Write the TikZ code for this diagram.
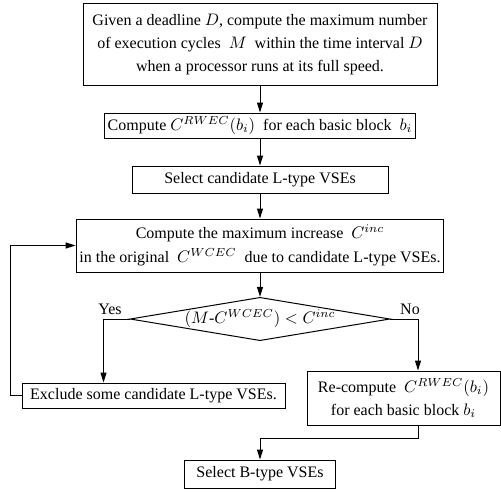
\documentclass[tikz,border=0pt]{standalone}
\usepackage{amsmath}
\usepackage{fontspec}
\setmainfont{Liberation Serif}
\usetikzlibrary{shapes.geometric, arrows.meta, calc}

\tikzset{
    stepbox/.style={draw, line width=0.6pt, align=center, inner sep=2pt,
        font=\fontsize{9.6}{14}\selectfont},
    flow/.style={line width=0.6pt, -{Triangle[length=6pt, width=3.6pt]}},
    link/.style={line width=0.6pt},
}

\begin{document}
\begin{tikzpicture}[x=0.6pt, y=-0.6pt]
    \useasboundingbox (0,0) rectangle (501,493);
    % Main column
    \node[stepbox, minimum width=212.4pt, minimum height=49.2pt] (given) at (260,44.5)
        {Given a deadline $D$, compute the maximum number\\
         of execution cycles~ $M$~ within the time interval $D$\\
         when a processor runs at its full speed.};
    \node[stepbox, minimum width=181.2pt, minimum height=15pt] (rwec) at (260,125.5)
        {Compute $C^{RWEC}(b_i)$~ for each basic block~ $b_i$};
    \node[stepbox, minimum width=153.6pt, minimum height=16.2pt] (lsel) at (260,179.5)
        {Select candidate L-type VSEs};
    \node[stepbox, minimum width=214.2pt, minimum height=31.8pt] (incr) at (260,245.5)
        {Compute the maximum increase~ $C^{inc}$\\
         in the original~ $C^{WCEC}$~ due to candidate L-type VSEs.};
    % Decision
    \node[draw, line width=0.6pt, shape=diamond, aspect=6, inner sep=0pt,
        minimum width=150pt, minimum height=25.2pt,
        font=\fontsize{9.6}{14}\selectfont] (test) at (260,319)
        {$(M\text{-}C^{WCEC}) < C^{inc}$};
    \node[font=\fontsize{9.6}{14}\selectfont] (yes) at (110,309) {Yes};
    \node[font=\fontsize{9.6}{14}\selectfont] (no) at (410,309) {No};
    % Branches
    \node[stepbox, minimum width=157.8pt, minimum height=15pt] (excl) at (153.5,395.5)
        {Exclude some candidate L-type VSEs.};
    \node[stepbox, minimum width=115.8pt, minimum height=32.4pt] (reco) at (403.5,398)
        {Re-compute~ $C^{RWEC}(b_i)$\\ for each basic block $b_i$};
    \node[stepbox, minimum width=90.6pt, minimum height=16.8pt] (bsel) at (260,474)
        {Select B-type VSEs};
    % Arrows
    \draw[flow] (given) -- (rwec);
    \draw[flow] (rwec) -- (lsel);
    \draw[flow] (lsel) -- (incr);
    \draw[flow] (incr) -- (test);
    \draw[flow] (test.west) -| ($(excl.north)+(-50,0)$);
    \draw[flow] (test.east) -| ($(reco.north)+(14.5,0)$);
    \draw[flow] (excl.west) -- ++(-11,0) |- (incr.west);
    \draw[flow] ($(reco.south)+(14.5,0)$) -- ++(0,13) -| (bsel.north);
\end{tikzpicture}
\end{document}
